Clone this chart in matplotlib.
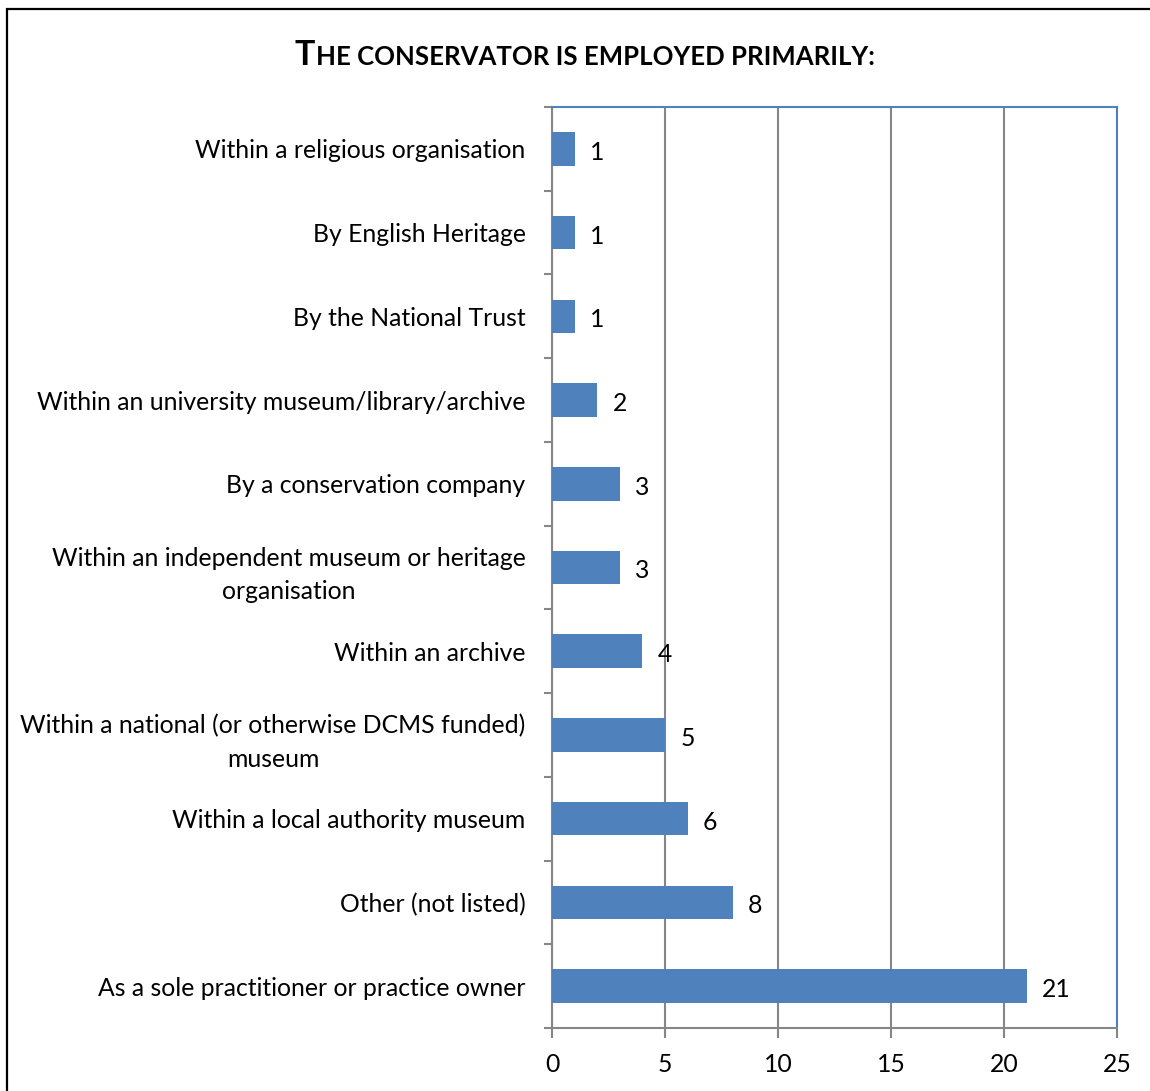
import matplotlib
matplotlib.use("Agg")
import matplotlib.pyplot as plt
from matplotlib.patches import Rectangle
from matplotlib.ticker import FixedLocator

categories = [
    "Within a religious organisation",
    "By English Heritage",
    "By the National Trust",
    "Within an university museum/library/archive",
    "By a conservation company",
    "Within an independent museum or heritage\norganisation",
    "Within an archive",
    "Within a national (or otherwise DCMS funded)\nmuseum",
    "Within a local authority museum",
    "Other (not listed)",
    "As a sole practitioner or practice owner",
]
counts = [1, 1, 1, 2, 3, 3, 4, 5, 6, 8, 21]
x_ticks = [0, 5, 10, 15, 20, 25]

plt.rcParams['font.family'] = ['Lato', 'DejaVu Sans']

W, H = 1150, 1091
fig = plt.figure(figsize=(W / 100, H / 100), dpi=100)

# outer chart frame
fig.patches.append(Rectangle((7 / W, -0.05), 1.2, 1 - 9 / H + 0.05,
                             transform=fig.transFigure, fill=False,
                             edgecolor='black', linewidth=1.6))

ax = fig.add_axes([552 / W, 1 - 1028 / H, (1117 - 552) / W, (1028 - 107) / H])
ypos = list(range(len(categories)))
ax.barh(ypos, counts, height=0.4, color='#4F81BD', zorder=3)
ax.set_xlim(0, 25)
ax.set_ylim(len(categories) - 0.5, -0.5)

fs = 17.8
for y, v in zip(ypos, counts):
    ax.annotate(str(v), (v, y), xytext=(11, -2.5), textcoords='offset points',
                va='center', ha='left', fontsize=fs, zorder=4)

grey = '#868686'
ax.set_xticks(x_ticks)
ax.set_xticklabels([str(t) for t in x_ticks], fontsize=fs)
ax.tick_params(axis='x', direction='out', length=7, width=1.5, color=grey, pad=11)
ax.grid(axis='x', color=grey, linewidth=1.5, zorder=1)

ax.set_yticks(ypos)
ax.set_yticklabels(categories, fontsize=fs, multialignment='center', linespacing=1.55)
ax.tick_params(axis='y', which='major', length=0, pad=19)
ax.yaxis.set_minor_locator(FixedLocator([i - 0.5 for i in range(len(categories) + 1)]))
ax.tick_params(axis='y', which='minor', direction='out', length=6, width=1.5, color=grey)

for side in ('left', 'bottom'):
    ax.spines[side].set_color(grey)
    ax.spines[side].set_linewidth(1.5)
for side in ('top', 'right'):
    ax.spines[side].set_color('#4F81BD')
    ax.spines[side].set_linewidth(1.5)

# small-caps style title
fig.canvas.draw()
r = fig.canvas.get_renderer()
t1 = fig.text(0, 1 - 65 / H, "T", fontsize=24.5, fontweight='bold', ha='left', va='baseline')
t2 = fig.text(0, 1 - 65 / H, "HE CONSERVATOR IS EMPLOYED PRIMARILY:", fontsize=18.5,
              fontweight='bold', ha='left', va='baseline')
w1 = t1.get_window_extent(r).width
w2 = t2.get_window_extent(r).width
x0 = 585 - (w1 + w2 + 1) / 2
t1.set_x(x0 / W)
t2.set_x((x0 + w1 + 1) / W)

fig.savefig("out.png", dpi=100)
